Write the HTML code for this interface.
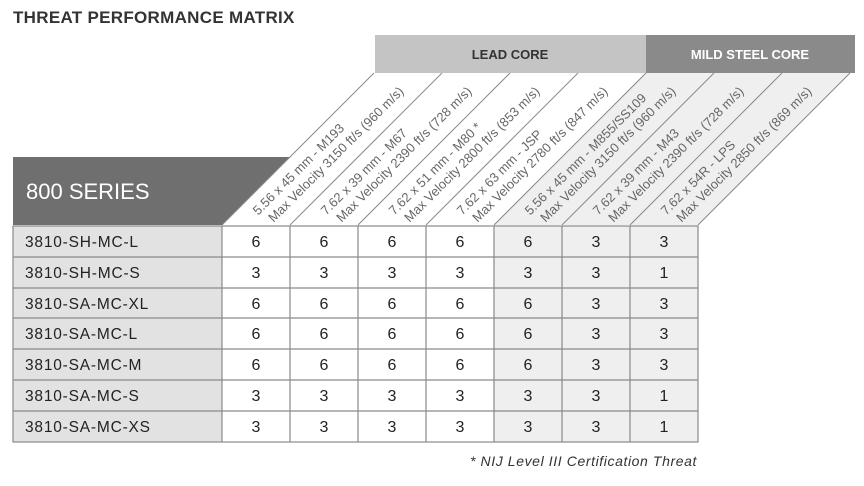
<!DOCTYPE html>
<html><head><meta charset="utf-8"><style>
html,body{margin:0;padding:0;background:#fff;}
svg{display:block;font-family:"Liberation Sans",sans-serif;}
</style></head><body>
<svg width="864" height="486" viewBox="0 0 864 486" xmlns="http://www.w3.org/2000/svg">
<text x="13" y="23" font-size="17" font-weight="bold" fill="#333" letter-spacing="0.3">THREAT PERFORMANCE MATRIX</text>
<rect x="375" y="35" width="271" height="38" fill="#c4c4c4"/>
<rect x="646" y="35" width="209" height="38" fill="#8a8a8a"/>
<text x="510" y="59" font-size="13" font-weight="bold" fill="#333" text-anchor="middle">LEAD CORE</text>
<text x="750" y="59" font-size="13" font-weight="bold" fill="#fff" text-anchor="middle">MILD STEEL CORE</text>
<polygon points="13,157 290,157 222,225 13,225" fill="#6f6f6f"/>
<text x="26" y="199" font-size="22" fill="#fff">800 SERIES</text>
<polygon points="494,225 646,73 850,73 698,225" fill="#efefef"/>
<g stroke="#8a8a8a" stroke-width="1">
<line x1="222" y1="225" x2="374" y2="73"/>
<line x1="290" y1="225" x2="442" y2="73"/>
<line x1="358" y1="225" x2="510" y2="73"/>
<line x1="426" y1="225" x2="578" y2="73"/>
<line x1="494" y1="225" x2="646" y2="73"/>
<line x1="562" y1="225" x2="714" y2="73"/>
<line x1="630" y1="225" x2="782" y2="73"/>
<line x1="698" y1="225" x2="850" y2="73"/>
</g>
<g font-size="13" fill="#666">
<g transform="translate(256,225) rotate(-45)"><text x="8" y="-5">5.56 x 45 mm - M193</text><text x="14" y="11">Max Velocity 3150 ft/s (960 m/s)</text></g>
<g transform="translate(324,225) rotate(-45)"><text x="8" y="-5">7.62 x 39 mm - M67</text><text x="14" y="11">Max Velocity 2390 ft/s (728 m/s)</text></g>
<g transform="translate(392,225) rotate(-45)"><text x="8" y="-5">7.62 x 51 mm - M80 *</text><text x="14" y="11">Max Velocity 2800 ft/s (853 m/s)</text></g>
<g transform="translate(460,225) rotate(-45)"><text x="8" y="-5">7.62 x 63 mm - JSP</text><text x="14" y="11">Max Velocity 2780 ft/s (847 m/s)</text></g>
<g transform="translate(528,225) rotate(-45)"><text x="8" y="-5">5.56 x 45 mm - M855/SS109</text><text x="14" y="11">Max Velocity 3150 ft/s (960 m/s)</text></g>
<g transform="translate(596,225) rotate(-45)"><text x="8" y="-5">7.62 x 39 mm - M43</text><text x="14" y="11">Max Velocity 2390 ft/s (728 m/s)</text></g>
<g transform="translate(664,225) rotate(-45)"><text x="8" y="-5">7.62 x 54R - LPS</text><text x="14" y="11">Max Velocity 2850 ft/s (869 m/s)</text></g>
</g>
<rect x="13" y="226" width="209" height="216" fill="#e2e2e2"/>
<rect x="494" y="226" width="204" height="216" fill="#efefef"/>
<g stroke="#8a8a8a" stroke-width="1.2" fill="none">
<rect x="13" y="226" width="685" height="216"/>
<line x1="13" y1="257" x2="698" y2="257"/>
<line x1="13" y1="288" x2="698" y2="288"/>
<line x1="13" y1="318" x2="698" y2="318"/>
<line x1="13" y1="349" x2="698" y2="349"/>
<line x1="13" y1="380" x2="698" y2="380"/>
<line x1="13" y1="411" x2="698" y2="411"/>
<line x1="222" y1="226" x2="222" y2="442"/>
<line x1="290" y1="226" x2="290" y2="442"/>
<line x1="358" y1="226" x2="358" y2="442"/>
<line x1="426" y1="226" x2="426" y2="442"/>
<line x1="494" y1="226" x2="494" y2="442"/>
<line x1="562" y1="226" x2="562" y2="442"/>
<line x1="630" y1="226" x2="630" y2="442"/>
</g>
<g font-size="15.5" fill="#222" letter-spacing="0.8">
<text x="25" y="247">3810-SH-MC-L</text>
<text x="25" y="278">3810-SH-MC-S</text>
<text x="25" y="309">3810-SA-MC-XL</text>
<text x="25" y="339">3810-SA-MC-L</text>
<text x="25" y="370">3810-SA-MC-M</text>
<text x="25" y="401">3810-SA-MC-S</text>
<text x="25" y="432">3810-SA-MC-XS</text>
</g>
<g font-size="16" fill="#222" text-anchor="middle">
<g><text x="256" y="247">6</text><text x="324" y="247">6</text><text x="392" y="247">6</text><text x="460" y="247">6</text><text x="528" y="247">6</text><text x="596" y="247">3</text><text x="664" y="247">3</text></g>
<g><text x="256" y="278">3</text><text x="324" y="278">3</text><text x="392" y="278">3</text><text x="460" y="278">3</text><text x="528" y="278">3</text><text x="596" y="278">3</text><text x="664" y="278">1</text></g>
<g><text x="256" y="309">6</text><text x="324" y="309">6</text><text x="392" y="309">6</text><text x="460" y="309">6</text><text x="528" y="309">6</text><text x="596" y="309">3</text><text x="664" y="309">3</text></g>
<g><text x="256" y="339">6</text><text x="324" y="339">6</text><text x="392" y="339">6</text><text x="460" y="339">6</text><text x="528" y="339">6</text><text x="596" y="339">3</text><text x="664" y="339">3</text></g>
<g><text x="256" y="370">6</text><text x="324" y="370">6</text><text x="392" y="370">6</text><text x="460" y="370">6</text><text x="528" y="370">6</text><text x="596" y="370">3</text><text x="664" y="370">3</text></g>
<g><text x="256" y="401">3</text><text x="324" y="401">3</text><text x="392" y="401">3</text><text x="460" y="401">3</text><text x="528" y="401">3</text><text x="596" y="401">3</text><text x="664" y="401">1</text></g>
<g><text x="256" y="432">3</text><text x="324" y="432">3</text><text x="392" y="432">3</text><text x="460" y="432">3</text><text x="528" y="432">3</text><text x="596" y="432">3</text><text x="664" y="432">1</text></g>
</g>
<text x="697" y="466" font-size="14" font-style="italic" fill="#333" text-anchor="end" letter-spacing="0.6">* NIJ Level III Certification Threat</text>
</svg>
</body></html>
